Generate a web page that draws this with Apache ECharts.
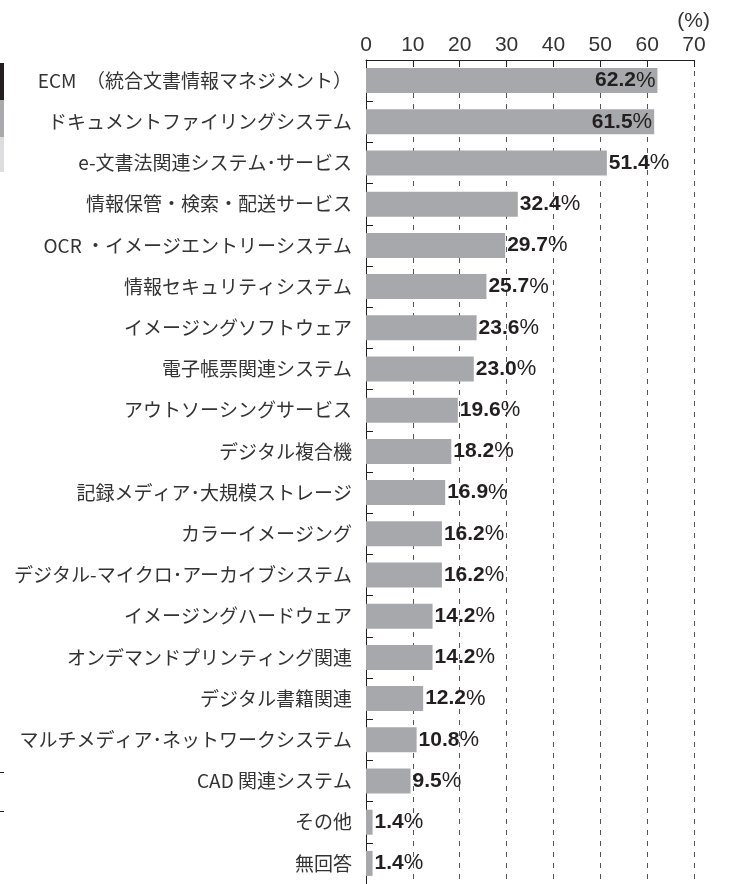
<!DOCTYPE html>
<html>
<head>
<meta charset="utf-8">
<script src="https://cdn.jsdelivr.net/npm/echarts@6/dist/echarts.min.js"></script>
<style>
  html, body { margin: 0; padding: 0; background: #fff; }
  #main { width: 740px; height: 884px; }
</style>
</head>
<body>
<div id="main"></div>
<script>
  // 項目名（上から順）
  var categories = [
    "ECM　（統合文書情報マネジメント）",
    "ドキュメントファイリングシステム",
    "e-文書法関連システム･サービス",
    "情報保管・検索・配送サービス",
    "OCR ・イメージエントリーシステム",
    "情報セキュリティシステム",
    "イメージングソフトウェア",
    "電子帳票関連システム",
    "アウトソーシングサービス",
    "デジタル複合機",
    "記録メディア･大規模ストレージ",
    "カラーイメージング",
    "デジタル-マイクロ･アーカイブシステム",
    "イメージングハードウェア",
    "オンデマンドプリンティング関連",
    "デジタル書籍関連",
    "マルチメディア･ネットワークシステム",
    "CAD 関連システム",
    "その他",
    "無回答"
  ]

  // 回答率（%）
  var values = [62.2, 61.5, 51.4, 32.4, 29.7, 25.7, 23.6, 23.0, 19.6, 18.2,
    16.9, 16.2, 16.2, 14.2, 14.2, 12.2, 10.8, 9.5, 1.4, 1.4]

  // 棒の内側にラベルを置く項目
  var insideLabels = [0, 1]

  var chart = echarts.init(document.getElementById("main"))

  var barData = values.map(function (v, i) {
    var inside = insideLabels.indexOf(i) >= 0
    return {
      value: v,
      label: {
        position: inside ? "insideRight" : "right",
        distance: 2
      }
    }
  })

  var numFont = "'Liberation Sans', Arial, sans-serif"

  var option = {
    animation: false,
    backgroundColor: "#fff",
    grid: { left: 366, right: 46, top: 60, height: 828 },
    xAxis: {
      type: "value",
      position: "top",
      min: 0,
      max: 70,
      interval: 10,
      axisLine: { show: true, lineStyle: { color: "#231f20", width: 1 } },
      axisTick: { show: true, inside: true, length: 7, lineStyle: { color: "#231f20" } },
      axisLabel: {
        margin: 4,
        fontSize: 21,
        color: "#333",
        fontFamily: numFont
      },
      splitLine: {
        show: true,
        lineStyle: { color: "#555", type: [5, 6], width: 1 }
      }
    },
    yAxis: {
      type: "category",
      inverse: true,
      data: categories,
      axisLine: { show: true, lineStyle: { color: "#231f20", width: 1 } },
      axisTick: { show: true, inside: true, length: 7, lineStyle: { color: "#231f20" } },
      axisLabel: {
        margin: 14,
        fontSize: 19,
        color: "#333",
        fontFamily: "'Noto Sans CJK JP', sans-serif"
      }
    },
    series: [
      {
        type: "bar",
        data: barData,
        barWidth: 25,
        itemStyle: { color: "#a7a8ab" },
        label: {
          show: true,
          formatter: function (p) {
            return "{n|" + p.value.toFixed(1) + "}{p|%}"
          },
          rich: {
            n: {
              fontFamily: numFont,
              fontWeight: "bold",
              fontSize: 21,
              color: "#231f20"
            },
            p: {
              fontFamily: numFont,
              fontSize: 22,
              color: "#231f20"
            }
          }
        }
      }
    ],
    graphic: [
      {
        type: "text",
        right: 30,
        top: 11,
        style: {
          text: "(%)",
          fontSize: 21,
          fill: "#333",
          fontFamily: numFont
        }
      },
      // 隣の図の凡例の切れ端
      { type: "rect", shape: { x: 0, y: 63, width: 4, height: 37 }, style: { fill: "#231f20" } },
      { type: "rect", shape: { x: 0, y: 100, width: 4, height: 37 }, style: { fill: "#a9aaad" } },
      { type: "rect", shape: { x: 0, y: 137, width: 4, height: 35 }, style: { fill: "#dcdddf" } },
      { type: "rect", shape: { x: 0, y: 772, width: 4, height: 1 }, style: { fill: "#231f20" } },
      { type: "rect", shape: { x: 0, y: 811, width: 4, height: 1 }, style: { fill: "#231f20" } }
    ]
  }

  chart.setOption(option)
</script>
</body>
</html>
